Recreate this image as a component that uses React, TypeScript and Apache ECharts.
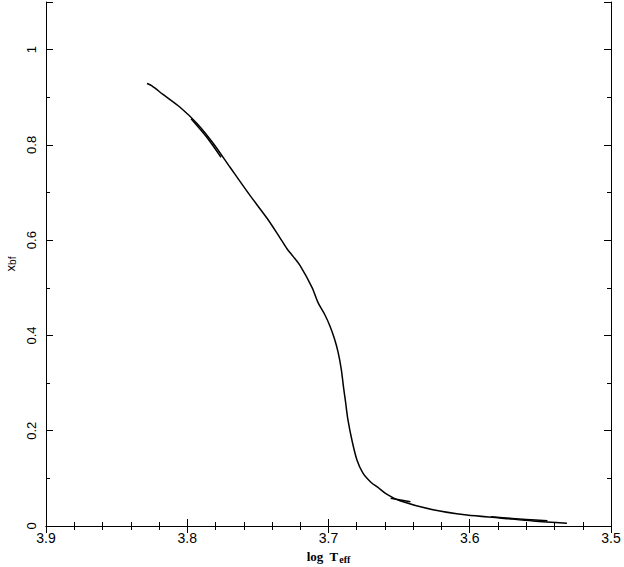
import React, { useEffect, useRef } from "react";
import * as echarts from "echarts";

// log Teff (x) and x_bf (y) along the main track
const teffMain = [
  3.8285, 3.825, 3.8172, 3.8051, 3.7931, 3.7818, 3.7697, 3.7556, 3.7435, 3.735,
  3.7294, 3.7251, 3.7202, 3.7117, 3.7074, 3.7025, 3.699, 3.696, 3.6933, 3.691,
  3.6893, 3.688, 3.6862, 3.6834, 3.6798, 3.6756, 3.67, 3.665, 3.6594, 3.6494,
  3.626, 3.602, 3.5786, 3.5552, 3.5312,
];
const xbfMain = [
  0.929, 0.924, 0.906, 0.879, 0.845, 0.804, 0.753, 0.694, 0.646, 0.608,
  0.582, 0.566, 0.547, 0.501, 0.469, 0.443, 0.42, 0.395, 0.366, 0.33,
  0.29, 0.262, 0.222, 0.18, 0.138, 0.111, 0.092, 0.081, 0.068, 0.053,
  0.034, 0.023, 0.017, 0.0105, 0.006,
];
// short overlapping track segments
const teffTrackA = [3.7973, 3.7867, 3.7761];
const xbfTrackA = [0.855, 0.818, 0.774];
const teffTrackB = [3.656, 3.649, 3.642];
const xbfTrackB = [0.058, 0.0545, 0.051];
const teffTrackC = [3.585, 3.57, 3.56, 3.545];
const xbfTrackC = [0.0195, 0.016, 0.0138, 0.0108];

const xTicks = [3.9, 3.8, 3.7, 3.6, 3.5];
const yTicks = [0, 0.2, 0.4, 0.6, 0.8, 1];

const pairs = (xs: number[], ys: number[]) => xs.map((x, i) => [x, ys[i]]);

export default function App() {
  const ref = useRef<HTMLDivElement>(null);
  useEffect(() => {
    if (!ref.current) return;
    const chart = echarts.init(ref.current, null, { renderer: "svg" });
    const isXTick = (v: number) => xTicks.some((t) => Math.abs(t - v) < 1e-6);
    const isYTick = (v: number) => yTicks.some((t) => Math.abs(t - v) < 1e-6);
    const axisCommon = {
      axisLine: { show: true, lineStyle: { color: "#000", width: 1 } },
      axisTick: { show: true, inside: true, length: 7, lineStyle: { color: "#000", width: 1 } },
      minorTick: { show: true, length: 4, lineStyle: { color: "#000", width: 1 } },
      splitLine: { show: false },
      minorSplitLine: { show: false },
    };
    const lineSeries = (data: number[][]) => ({
      type: "line",
      data,
      showSymbol: false,
      symbol: "none",
      smooth: 0.3,
      lineStyle: { color: "#000", width: 1.5 },
      silent: true,
    });
    chart.setOption({
      animation: false,
      backgroundColor: "#fff",
      grid: { left: 46, right: 13, top: 2, bottom: 41, containLabel: false, outerBoundsMode: "none" },
      xAxis: [
        {
          type: "value",
          min: 3.5,
          max: 3.9,
          interval: 0.1,
          inverse: true,
          position: "bottom",
          ...axisCommon,
          minorTick: { ...axisCommon.minorTick, splitNumber: 5 },
          axisLabel: {
            color: "#000",
            fontFamily: "Liberation Sans",
            fontSize: 14,
            margin: 5,
            formatter: (v: number) => (isXTick(v) ? v.toFixed(1) : ""),
          },
          name: "log  T{sub|eff}",
          nameLocation: "middle",
          nameGap: 21,
          nameTextStyle: {
            color: "#000",
            fontFamily: "Liberation Serif",
            fontSize: 13,
            fontWeight: "bold",
            rich: {
              sub: {
                fontFamily: "Liberation Serif",
                fontSize: 10,
                fontWeight: "bold",
                verticalAlign: "bottom",
                padding: [6, 0, 0, 1],
                color: "#000",
              },
            },
          },
        },
        {
          type: "value",
          min: 3.5,
          max: 3.9,
          interval: 0.1,
          inverse: true,
          position: "top",
          ...axisCommon,
          minorTick: { ...axisCommon.minorTick, splitNumber: 5 },
          axisLabel: { show: false },
        },
      ],
      yAxis: [
        {
          type: "value",
          min: 0,
          max: 1.1,
          interval: 0.2,
          position: "left",
          ...axisCommon,
          minorTick: { ...axisCommon.minorTick, splitNumber: 2 },
          axisLabel: {
            color: "#000",
            fontFamily: "Liberation Sans",
            fontSize: 13,
            rotate: 90,
            margin: 8,
            formatter: (v: number) => (isYTick(v) ? String(Math.round(v * 10) / 10) : ""),
          },
          name: "x{sub|bf}",
          nameLocation: "middle",
          nameGap: 28,
          nameRotate: 90,
          nameTextStyle: {
            color: "#000",
            fontFamily: "Liberation Sans",
            fontSize: 13,
            rich: {
              sub: {
                fontFamily: "Liberation Sans",
                fontSize: 10,
                verticalAlign: "bottom",
                padding: [4, 0, 0, 0],
                color: "#000",
              },
            },
          },
        },
        {
          type: "value",
          min: 0,
          max: 1.1,
          interval: 0.2,
          position: "right",
          ...axisCommon,
          minorTick: { ...axisCommon.minorTick, splitNumber: 2 },
          axisLabel: { show: false },
        },
      ],
      series: [
        lineSeries(pairs(teffMain, xbfMain)),
        lineSeries(pairs(teffTrackA, xbfTrackA)),
        lineSeries(pairs(teffTrackB, xbfTrackB)),
        lineSeries(pairs(teffTrackC, xbfTrackC)),
      ],
    });
    return () => chart.dispose();
  }, []);
  return <div ref={ref} style={{ width: 624, height: 567, position: "absolute", left: 0, top: 0 }} />;
}
